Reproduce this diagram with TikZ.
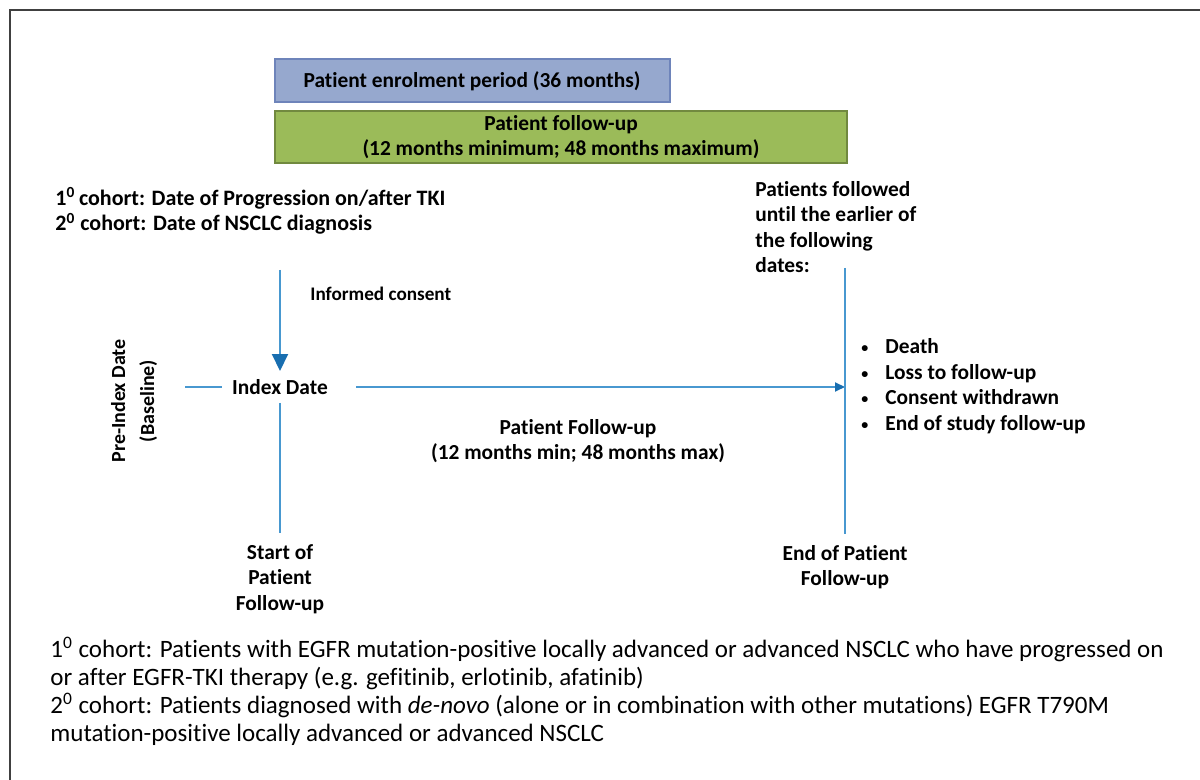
\documentclass[tikz,border=0pt]{standalone}
\usepackage{fontspec}
\setmainfont{Carlito}[Ligatures=NoCommon]
\usepackage{tikz}
\usetikzlibrary{arrows.meta, positioning, calc}

\definecolor{enrolfill}{RGB}{150,168,206}
\definecolor{enroldraw}{RGB}{110,132,186}
\definecolor{followfill}{RGB}{155,187,89}
\definecolor{followdraw}{RGB}{113,137,63}
\definecolor{timeline}{RGB}{72,152,208}
\definecolor{tipblue}{RGB}{24,110,176}

\newcommand{\smallbul}{\makebox[12pt][l]{\raisebox{0.5pt}{\fontsize{7}{7}\selectfont\textbullet}}}

\tikzset{
    label/.style={font=\fontsize{10.7}{12.8}\selectfont\bfseries, inner sep=0pt},
    tline/.style={timeline, line width=1pt},
}

\begin{document}
\begin{tikzpicture}[x=0.5pt, y=-0.5pt]

    \useasboundingbox (0,0) rectangle (1200,780);

    % ============================================================
    % OUTER FRAME
    % ============================================================
    \draw[black!75, line width=1.4pt] (10,780) -- (10,10) -- (1200,10);

    % ============================================================
    % ENROLMENT AND FOLLOW-UP BARS
    % ============================================================
    \draw[enroldraw, fill=enrolfill, line width=1pt] (275,59) rectangle (670,102);
    \node[label] (enrol) at (472,81) {Patient enrolment period (36 months)};

    \draw[followdraw, fill=followfill, line width=1pt] (275,111) rectangle (847,163);
    \node[label, align=center] (follow) at (561,137)
        {Patient follow-up\\(12 months minimum; 48 months maximum)};

    % ============================================================
    % COHORT DATES AND END CONDITIONS
    % ============================================================
    \node[label, font=\fontsize{11}{12.8}\selectfont\bfseries, align=left, anchor=west]
        (cohortdate) at (55,211)
        {1\textsuperscript{0}\,cohort: Date of Progression on/after TKI\\
         2\textsuperscript{0} cohort: Date of NSCLC diagnosis};

    \node[label, align=left, anchor=west] (untilnote) at (755,227)
        {Patients followed\\until the earlier of\\the following\\dates:};

    % ============================================================
    % INDEX DATE AND TIMELINE
    % ============================================================
    \node[label, inner xsep=5pt, inner ysep=4pt] (idx) at (280,387) {Index Date};
    \node[label, font=\fontsize{9.6}{12}\selectfont\bfseries, anchor=west]
        (consent) at (310,294) {Informed consent};
    \node[label, font=\fontsize{10}{14.5}\selectfont\bfseries, align=center, rotate=90]
        (preidx) at (134,401) {Pre-Index Date\\(Baseline)};

    \coordinate (ctop) at (280,270);
    \coordinate (pre) at (185,387);
    \coordinate (endtop) at (845,268);

    \node[label, align=center, inner ysep=5.5pt] (startfu) at (280,579)
        {Start of\\Patient\\Follow-up};
    \node[label, align=center, inner ysep=5.5pt] (endfu) at (845,567)
        {End of Patient\\Follow-up};

    \draw[tline, -{Triangle[length=8.5pt, width=8pt, color=tipblue]}]
        (ctop) -- (idx.north);
    \draw[tline] (pre) -- (idx.west);
    \draw[tline, -{Triangle[length=5pt, width=4.5pt, color=tipblue]}]
        ([xshift=9pt]idx.east) -- (idx -| endtop);
    \draw[tline] (idx.south) -- (startfu.north);
    \draw[tline] (endtop) -- (endfu.north);

    \node[label, align=center] (midfu) at (578,441)
        {Patient Follow-up\\(12 months min; 48 months max)};

    \node[label, align=left, anchor=west] (reasons) at (861,386)
        {\smallbul Death\\
         \smallbul Loss to follow-up\\
         \smallbul Consent withdrawn\\
         \smallbul End of study follow-up};

    % ============================================================
    % COHORT DEFINITIONS
    % ============================================================
    \node[font=\fontsize{12.5}{14}\selectfont, inner sep=0pt, align=left, anchor=west]
        (cohortdef) at (50,691)
        {1\textsuperscript{0} cohort: Patients with EGFR mutation-positive locally advanced or advanced NSCLC who have progressed on\\
         or after EGFR-TKI therapy (e.g. gefitinib, erlotinib, afatinib)\\
         2\textsuperscript{0} cohort: Patients diagnosed with \textit{de-novo} (alone or in combination with other mutations) EGFR T790M\\
         mutation-positive locally advanced or advanced NSCLC};

\end{tikzpicture}
\end{document}
